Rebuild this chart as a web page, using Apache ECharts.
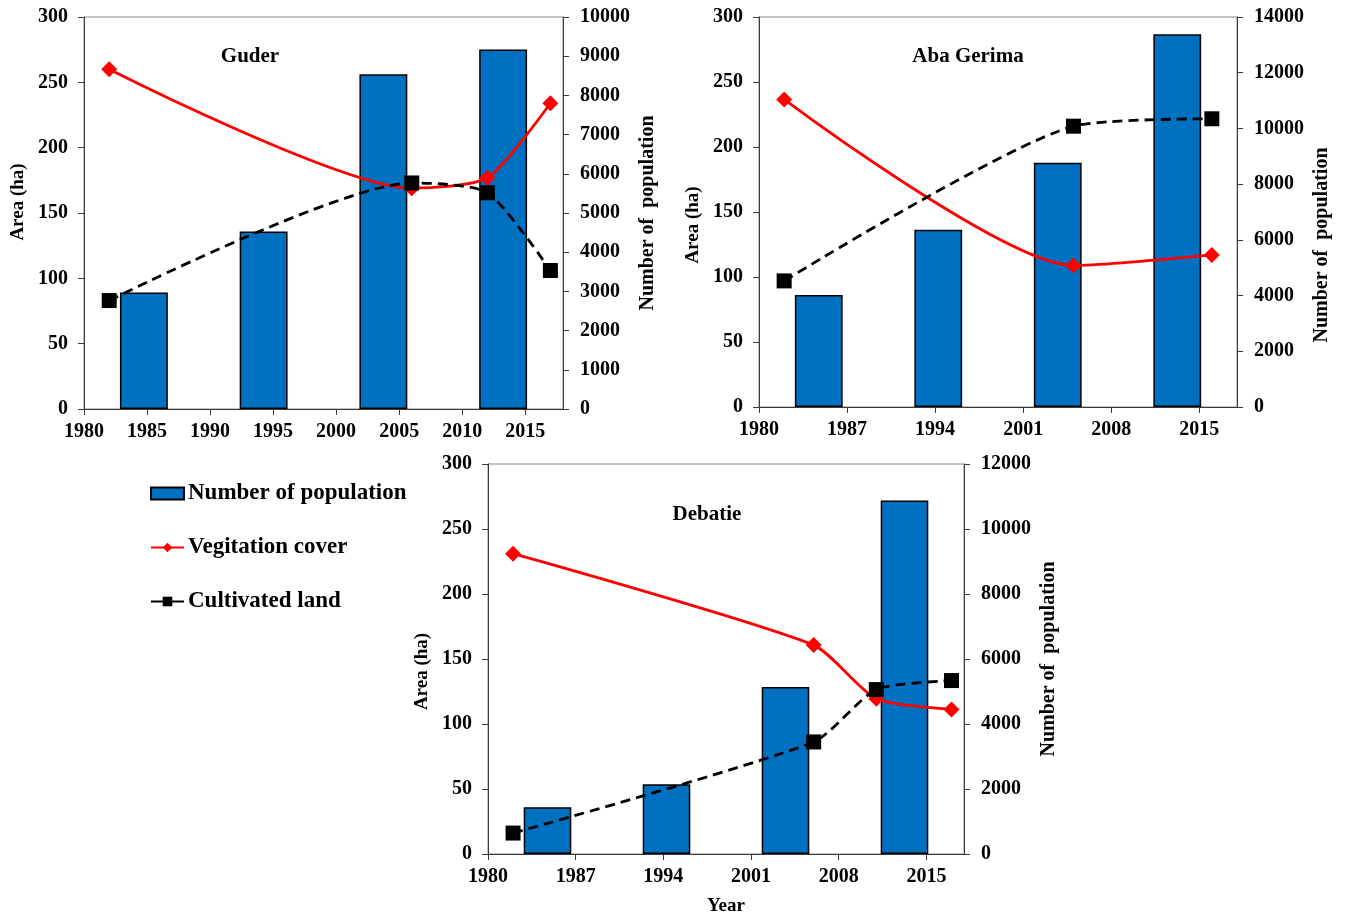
<!DOCTYPE html>
<html>
<head>
<meta charset="utf-8">
<script src="https://cdn.jsdelivr.net/npm/echarts@6/dist/echarts.min.js"></script>
<style>
  html, body { margin: 0; padding: 0; background: #ffffff; }
  #chart { width: 1349px; height: 917px; }
</style>
</head>
<body>
<div id="chart"></div>
<script>
// Land cover (ha) at survey years and population per census period, three kebeles.

// Guder
const guderYears = [1982, 2006, 2012, 2017];
const guderVegetation = [260, 169, 177, 234];
const guderCultivated = [83, 173, 165.5, 106];
const guderPopulation = [2970, 4530, 8540, 9170];

// Aba Gerima
const abaYears = [1982, 2005, 2016];
const abaVegetation = [236.6, 108.8, 117];
const abaCultivated = [97, 216, 221.7];
const abaPopulation = [4025, 6366, 8767, 13380];

// Debatie
const debatieYears = [1982, 2006, 2011, 2017];
const debatieVegetation = [231, 160.7, 119.4, 111.2];
const debatieCultivated = [16.1, 86.2, 126.5, 133.4];
const debatiePopulation = [1440, 2150, 5140, 10880];

// Census periods (bar slots) and year tick labels
const populationPeriods = ['1', '2', '3', '4'];
const yearTicksFive = [1980, 1985, 1990, 1995, 2000, 2005, 2010, 2015];
const yearTicksSeven = [1980, 1987, 1994, 2001, 2008, 2015];

const FONT = '"Liberation Serif", "Times New Roman", serif';
const AXIS_COLOR = '#3a3a3a';
const plain = function (v) { return String(v); };

const panels = [
  {
    title: 'Guder', titleX: 250, titleY: 57,
    grid: { left: 84, top: 17, width: 479, height: 392 },
    years: guderYears, veg: guderVegetation, cult: guderCultivated, pop: guderPopulation,
    yearTicks: yearTicksFive, yearStep: 5, popMax: 10000, popStep: 1000,
    leftNamePad: [0, 0, 0, 22], rightNamePad: [0, 0, 0, 0], yearName: ''
  },
  {
    title: 'Aba Gerima', titleX: 968, titleY: 57,
    grid: { left: 759, top: 17, width: 478, height: 390 },
    years: abaYears, veg: abaVegetation, cult: abaCultivated, pop: abaPopulation,
    yearTicks: yearTicksSeven, yearStep: 7, popMax: 14000, popStep: 2000,
    leftNamePad: [0, 26, 0, 0], rightNamePad: [0, 66, 0, 0], yearName: ''
  },
  {
    title: 'Debatie', titleX: 707, titleY: 515,
    grid: { left: 488, top: 464, width: 476, height: 392 },
    years: debatieYears, veg: debatieVegetation, cult: debatieCultivated, pop: debatiePopulation,
    yearTicks: yearTicksSeven, yearStep: 7, popMax: 12000, popStep: 2000,
    leftNamePad: [0, 25, 0, 0], rightNamePad: [0, 0, 0, 0], yearName: 'Year'
  }
];

const labelStyle = { fontFamily: FONT, fontWeight: 'bold', fontSize: 20, color: '#000', formatter: plain };
const nameStyle = { fontFamily: FONT, fontWeight: 'bold', fontSize: 19, color: '#000' };
const rightNameStyle = { fontFamily: FONT, fontWeight: 'bold', fontSize: 20, color: '#000' };

const grids = [], xAxes = [], yAxes = [], series = [], graphics = [];

panels.forEach(function (p, i) {
  grids.push(Object.assign({ show: true, borderColor: '#8a8a8a', borderWidth: 1, containLabel: false }, p.grid));

  // year axis for land-cover lines
  xAxes.push({
    type: 'value', gridIndex: i, min: 1980, max: 2018, interval: p.yearStep,
    name: p.yearName, nameLocation: 'middle', nameGap: 43, nameTextStyle: nameStyle,
    axisLine: { show: true, lineStyle: { color: AXIS_COLOR, width: 1 } },
    axisTick: { show: true, length: 6, customValues: p.yearTicks, lineStyle: { color: AXIS_COLOR } },
    axisLabel: Object.assign({ margin: 13, customValues: p.yearTicks }, labelStyle),
    splitLine: { show: false }
  });
  // slot axis for population bars
  xAxes.push({
    type: 'category', gridIndex: i, data: populationPeriods, show: false, boundaryGap: true
  });

  yAxes.push({
    type: 'value', gridIndex: i, position: 'left', min: 0, max: 300, interval: 50,
    name: 'Area (ha)', nameLocation: 'middle', nameGap: 56,
    nameTextStyle: Object.assign({ padding: p.leftNamePad }, nameStyle),
    axisLine: { show: true, lineStyle: { color: AXIS_COLOR, width: 1 } },
    axisTick: { show: true, length: 6, lineStyle: { color: AXIS_COLOR } },
    axisLabel: Object.assign({ margin: 16 }, labelStyle),
    splitLine: { show: false }
  });
  yAxes.push({
    type: 'value', gridIndex: i, position: 'right', min: 0, max: p.popMax, interval: p.popStep,
    name: 'Number of  population', nameLocation: 'middle', nameGap: 75,
    nameTextStyle: Object.assign({ padding: p.rightNamePad }, rightNameStyle),
    axisLine: { show: true, lineStyle: { color: AXIS_COLOR, width: 1 } },
    axisTick: { show: true, length: 6, lineStyle: { color: AXIS_COLOR } },
    axisLabel: Object.assign({ margin: 17 }, labelStyle),
    splitLine: { show: false }
  });

  series.push({
    type: 'bar', name: 'Number of population',
    xAxisIndex: 2 * i + 1, yAxisIndex: 2 * i + 1,
    data: p.pop, barWidth: '40%',
    itemStyle: { color: '#0070c0', borderColor: '#000', borderWidth: 1.5 },
    z: 2
  });
  series.push({
    type: 'line', name: 'Vegitation cover',
    xAxisIndex: 2 * i, yAxisIndex: 2 * i,
    data: p.years.map(function (y, k) { return [y, p.veg[k]]; }),
    smooth: 0.22, symbol: 'diamond', symbolSize: 16,
    lineStyle: { color: '#ff0000', width: 2.8 },
    itemStyle: { color: '#ff0000' },
    z: 3
  });
  series.push({
    type: 'line', name: 'Cultivated land',
    xAxisIndex: 2 * i, yAxisIndex: 2 * i,
    data: p.years.map(function (y, k) { return [y, p.cult[k]]; }),
    smooth: 0.22, symbol: 'rect', symbolSize: 15,
    lineStyle: { color: '#000', width: 2.8, type: [10, 6] },
    itemStyle: { color: '#000' },
    z: 4
  });

  graphics.push({
    type: 'text', x: p.titleX, y: p.titleY,
    style: {
      text: p.title, fill: '#000', font: 'bold 21px ' + FONT,
      textAlign: 'center', textVerticalAlign: 'middle'
    },
    z: 10
  });
});

const chart = echarts.init(document.getElementById('chart'), null, { renderer: 'canvas' });
chart.setOption({
  animation: false,
  backgroundColor: '#ffffff',
  grid: grids,
  xAxis: xAxes,
  yAxis: yAxes,
  series: series,
  graphic: graphics,
  legend: {
    orient: 'vertical', left: 150, top: 482, padding: 0,
    itemWidth: 33, itemHeight: 12, itemGap: 31,
    textStyle: { fontFamily: FONT, fontWeight: 'bold', fontSize: 23, color: '#000', padding: [0, 0, 0, -1] },
    data: [
      { name: 'Number of population', icon: 'rect' },
      { name: 'Vegitation cover' },
      { name: 'Cultivated land', lineStyle: { type: 'solid' } }
    ]
  }
});
</script>
</body>
</html>
